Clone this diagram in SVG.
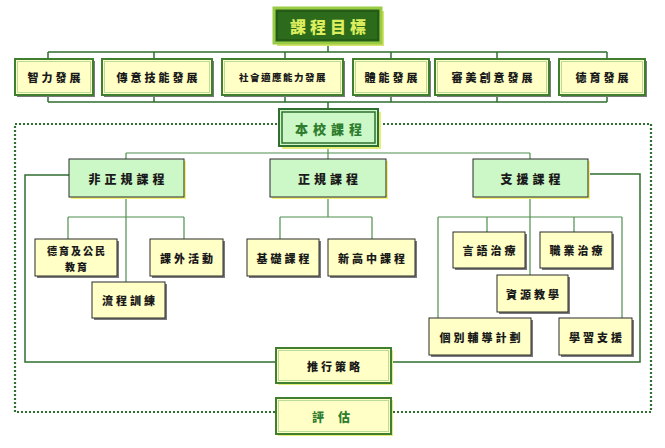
<svg xmlns="http://www.w3.org/2000/svg" width="665" height="448" viewBox="0 0 665 448">
<style>
.conn{fill:none;stroke:#2f6f2f;stroke-width:1.5}
.conn2{fill:none;stroke:#4f8f4f;stroke-width:1.2}
.dot{fill:none;stroke:#2f6f2f;stroke-width:2.2;stroke-dasharray:2 2}
.ybox{fill:#ffffc6;stroke:#2b2b2b;stroke-width:1}
.gshad{fill:#7a7a7a}
.tbox{fill:#ffffc6;stroke:#3f7f2f;stroke-width:2}
.tin{fill:none;stroke:#b9dc9a;stroke-width:1}
.lg{fill:#ccf7c6;stroke:#2b2b2b;stroke-width:1}
.yshad{fill:#f2f27a}
text{font-family:"Noto Sans CJK TC","Noto Sans CJK SC",sans-serif;font-weight:900;text-anchor:middle;dominant-baseline:central;fill:#1a1a1a}
.t12{font-size:12px;letter-spacing:4px}
.t11{font-size:11px;letter-spacing:3px}
.t10{font-size:10px;letter-spacing:2px}
.t13{font-size:13px;letter-spacing:5px}
</style>

<g id="connectors">
  <rect class="dot" x="15" y="124" width="636" height="288"/>
  <path class="conn" d="M328 43V52M48 52H607M48 52V59M154 52V59M285 52V59M391 52V59M497 52V59M607 52V59"/>
  <path class="conn" d="M48 95V102M154 95V102M285 95V102M391 95V102M497 95V102M607 95V102M48 102H607M328 102V110"/>
  <path class="conn2" d="M328 146V159M126 153H530M126 153V159M530 153V159"/>
  <path class="conn2" d="M126 197V282M68 217H184M68 217V239M184 217V239"/>
  <path class="conn2" d="M328 197V217M280 217H372M280 217V239M372 217V239"/>
  <path class="conn2" d="M530 197V275M438 217H622M438 217V318M487 217V232M574 217V232M622 217V318"/>
  <path class="conn" d="M69 175H25V362H640V174H588"/>
</g>

<g id="n-title">
  <rect x="277" y="11" width="107" height="35" fill="#d6e46a"/>
  <rect x="274" y="8" width="107" height="35" fill="#2c6b1c" stroke="#9acb45" stroke-width="3"/>
  <rect x="277" y="11" width="101" height="29" fill="none" stroke="#1d4f12" stroke-width="1"/>
  <text x="330" y="26" style="font-size:16px;letter-spacing:4px;fill:#dcee5e">課程目標</text>
</g>

<g id="n-zhili">
  <rect class="gshad" x="17" y="61" width="78" height="36"/>
  <rect class="tbox" x="15" y="59" width="78" height="36"/>
  <rect class="tin" x="17.5" y="61.5" width="73" height="31"/>
  <text class="t11" x="55.5" y="77">智力發展</text>
</g>
<g id="n-chuanyi">
  <rect class="gshad" x="104" y="61" width="110" height="36"/>
  <rect class="tbox" x="102" y="59" width="110" height="36"/>
  <rect class="tin" x="104.5" y="61.5" width="105" height="31"/>
  <text class="t11" x="158.5" y="77">傳意技能發展</text>
</g>
<g id="n-shehui">
  <rect class="gshad" x="224" y="61" width="121" height="36"/>
  <rect class="tbox" x="222" y="59" width="121" height="36"/>
  <rect class="tin" x="224.5" y="61.5" width="116" height="31"/>
  <text x="283" y="77" style="font-size:9.5px;letter-spacing:1.5px">社會適應能力發展</text>
</g>
<g id="n-tineng">
  <rect class="gshad" x="355" y="61" width="76" height="36"/>
  <rect class="tbox" x="353" y="59" width="76" height="36"/>
  <rect class="tin" x="355.5" y="61.5" width="71" height="31"/>
  <text class="t11" x="392.5" y="77">體能發展</text>
</g>
<g id="n-shenmei">
  <rect class="gshad" x="437" y="61" width="114" height="36"/>
  <rect class="tbox" x="435" y="59" width="114" height="36"/>
  <rect class="tin" x="437.5" y="61.5" width="109" height="31"/>
  <text class="t11" x="493.5" y="77">審美創意發展</text>
</g>
<g id="n-deyu">
  <rect class="gshad" x="561" y="61" width="86" height="36"/>
  <rect class="tbox" x="559" y="59" width="86" height="36"/>
  <rect class="tin" x="561.5" y="61.5" width="81" height="31"/>
  <text class="t11" x="603.5" y="77">德育發展</text>
</g>

<g id="n-benxiao">
  <rect x="282" y="112" width="99" height="37" fill="#e6ee7a"/>
  <rect x="279" y="109" width="99" height="37" fill="#ccf7c6" stroke="#2f6f2f" stroke-width="2"/>
  <rect x="282" y="112" width="93" height="31" fill="none" stroke="#2f6f2f" stroke-width="1.5"/>
  <text class="t13" x="331" y="128" style="fill:#2e7d2e">本校課程</text>
</g>

<g id="n-feizhenggui">
  <rect class="yshad" x="71" y="161" width="115" height="38"/>
  <rect class="lg" x="69" y="159" width="115" height="38"/>
  <text class="t12" x="128.5" y="178">非正規課程</text>
</g>
<g id="n-zhenggui">
  <rect class="yshad" x="272" y="161" width="116" height="38"/>
  <rect class="lg" x="270" y="159" width="116" height="38"/>
  <text class="t12" x="330" y="178">正規課程</text>
</g>
<g id="n-zhiyuan">
  <rect class="yshad" x="475" y="161" width="115" height="38"/>
  <rect class="lg" x="473" y="159" width="115" height="38"/>
  <text class="t12" x="532.5" y="178">支援課程</text>
</g>

<g id="n-deyugongmin">
  <rect class="gshad" x="37" y="241" width="82" height="37"/>
  <rect class="ybox" x="35" y="239" width="82" height="37"/>
  <text class="t10" x="77" y="250">德育及公民</text>
  <text class="t10" x="77" y="266">教育</text>
</g>
<g id="n-kewai">
  <rect class="gshad" x="152" y="241" width="73" height="37"/>
  <rect class="ybox" x="150" y="239" width="73" height="37"/>
  <text class="t11" x="188" y="258">課外活動</text>
</g>
<g id="n-liucheng">
  <rect class="gshad" x="94" y="284" width="73" height="36"/>
  <rect class="ybox" x="92" y="282" width="73" height="36"/>
  <text class="t11" x="130" y="300">流程訓練</text>
</g>
<g id="n-jichu">
  <rect class="gshad" x="249" y="241" width="72" height="37"/>
  <rect class="ybox" x="247" y="239" width="72" height="37"/>
  <text class="t11" x="284.5" y="258">基礎課程</text>
</g>
<g id="n-xingaozhong">
  <rect class="gshad" x="330" y="241" width="87" height="37"/>
  <rect class="ybox" x="328" y="239" width="87" height="37"/>
  <text class="t11" x="373" y="258">新高中課程</text>
</g>
<g id="n-yanyu">
  <rect class="gshad" x="455" y="234" width="72" height="36"/>
  <rect class="ybox" x="453" y="232" width="72" height="36"/>
  <text class="t11" x="490.5" y="250">言語治療</text>
</g>
<g id="n-zhiye">
  <rect class="gshad" x="542" y="234" width="72" height="36"/>
  <rect class="ybox" x="540" y="232" width="72" height="36"/>
  <text class="t11" x="577.5" y="250">職業治療</text>
</g>
<g id="n-ziyuan">
  <rect class="gshad" x="499" y="277" width="71" height="37"/>
  <rect class="ybox" x="497" y="275" width="71" height="37"/>
  <text class="t11" x="534" y="294">資源教學</text>
</g>
<g id="n-gebie">
  <rect class="gshad" x="431" y="320" width="102" height="37"/>
  <rect class="ybox" x="429" y="318" width="102" height="37"/>
  <text class="t11" x="481.5" y="337">個別輔導計劃</text>
</g>
<g id="n-xuexi">
  <rect class="gshad" x="561" y="320" width="73" height="37"/>
  <rect class="ybox" x="559" y="318" width="73" height="37"/>
  <text class="t11" x="597" y="337">學習支援</text>
</g>

<g id="n-tuixing">
  <rect x="278" y="350" width="115" height="35" fill="#e6ee7a"/>
  <rect class="tbox" x="276" y="348" width="115" height="35"/>
  <rect class="tin" x="278.5" y="350.5" width="110" height="30"/>
  <text class="t11" x="335" y="366">推行策略</text>
</g>
<g id="n-pinggu">
  <rect x="278" y="400" width="115" height="36" fill="#e6ee7a"/>
  <rect class="tbox" x="276" y="398" width="115" height="36"/>
  <rect class="tin" x="278.5" y="400.5" width="110" height="31"/>
  <text x="338" y="416" style="font-size:12px;letter-spacing:14px;fill:#2e7d2e">評估</text>
</g>
</svg>
